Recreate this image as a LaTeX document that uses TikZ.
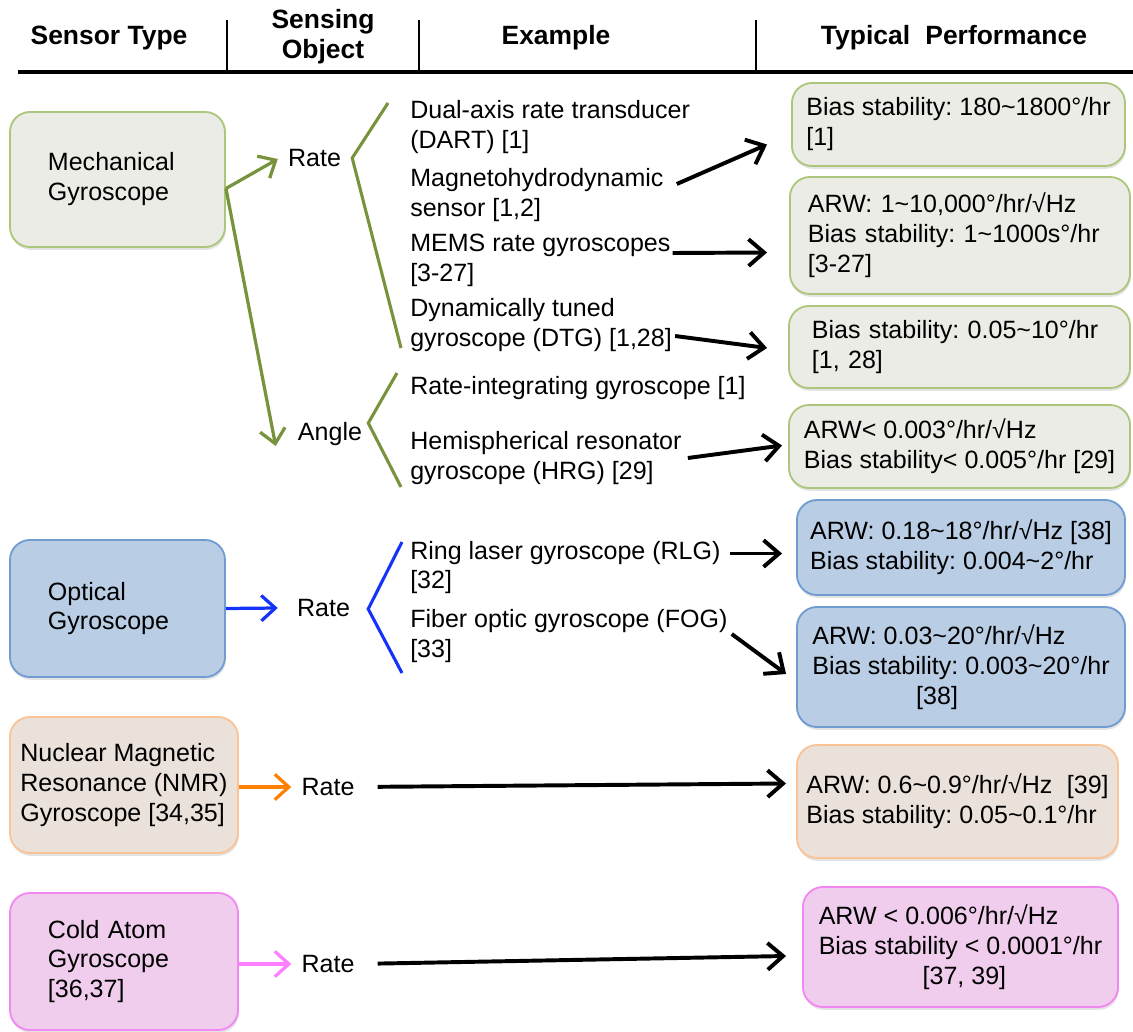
\documentclass[tikz,border=0pt]{standalone}
\usepackage{fontspec}
\setmainfont{Liberation Sans}
\usetikzlibrary{arrows.meta,calc,shadows}
\frenchspacing

\definecolor{mechfill}{RGB}{235,236,230}
\definecolor{mechline}{RGB}{172,198,124}
\definecolor{mechgreen}{RGB}{119,147,60}
\definecolor{optfill}{RGB}{185,205,228}
\definecolor{optline}{RGB}{112,156,210}
\definecolor{optblue}{RGB}{20,50,250}
\definecolor{nmrfill}{RGB}{234,225,219}
\definecolor{nmrline}{RGB}{250,195,150}
\definecolor{nmrorange}{RGB}{255,128,0}
\definecolor{coldfill}{RGB}{240,205,237}
\definecolor{coldline}{RGB}{242,135,242}
\definecolor{coldpink}{RGB}{255,128,255}

\newcommand{\tld}{\textasciitilde}

\tikzset{
  txt/.style={font=\fontsize{17.8}{21.3}\selectfont, inner sep=0pt},
  head/.style={font=\fontsize{18.8}{21.3}\selectfont\bfseries, align=center, inner sep=0pt},
  gbox/.style={txt, draw, line width=1.3pt, rounded corners=0.5cm, align=left,
    drop shadow={opacity=0.22, shadow xshift=0.6pt, shadow yshift=-2pt}},
  mechbox/.style={gbox, draw=mechline, fill=mechfill},
  optbox/.style={gbox, draw=optline, fill=optfill},
  nmrbox/.style={gbox, draw=nmrline, fill=nmrfill},
  coldbox/.style={gbox, draw=coldline, fill=coldfill},
  ex/.style={txt, align=left, anchor=west},
  obj/.style={txt},
  arr/.style={line width=2.8pt, -{Straight Barb[length=11pt,width=19pt]}},
  carr/.style={line width=2.3pt, -{Straight Barb[length=10pt,width=18pt]}},
  garr/.style={carr, mechgreen},
  barr/.style={carr, optblue},
  oarr/.style={carr, nmrorange},
  parr/.style={carr, coldpink},
  brace/.style={line width=2.2pt}
}

\begin{document}
\begin{tikzpicture}[x=0.025cm, y=-0.025cm]
  \useasboundingbox (0,0) rectangle (1133,1032);

  % header
  \node[head] (hType) at (109,38) {Sensor Type};
  \node[head] (hObj) at (323,37) {Sensing\\Object};
  \node[head] (hEx) at (556,38) {Example};
  \node[head] (hPerf) at (954,38) {Typical\hspace{0.3em} Performance};
  \draw[line width=2.8pt] (18,72) -- (1133,72);
  \foreach \sx in {227,419,756}
    \draw[line width=1.8pt] (\sx,20) -- (\sx,72);

  % sensor types
  \node[mechbox, minimum width=5.375cm, minimum height=3.375cm, text width=3.475cm] (mech) at (117.5,179.5) {Mechanical\\Gyroscope};
  \node[optbox, minimum width=5.375cm, minimum height=3.425cm, text width=3.475cm] (opt) at (117.5,608.5) {Optical\\Gyroscope};
  \node[nmrbox, minimum width=5.7cm, minimum height=3.4cm] (nmr) at (124,785) {Nuclear Magnetic\\Resonance (NMR)\\Gyroscope [34,35]};
  \node[coldbox, minimum width=5.7cm, minimum height=3.425cm, text width=3.8cm] (cold) at (124,961.5) {Cold Atom\\Gyroscope\\{}[36,37]};

  % sensing objects
  \node[obj] (mrate) at (314.5,158) {Rate};
  \node[obj] (mangle) at (330,434) {Angle};
  \node[obj] (orate) at (323.5,608) {Rate};
  \node[obj] (nrate) at (328,787) {Rate};
  \node[obj] (crate) at (328,964) {Rate};

  % examples
  \node[ex] (ex1) at (410,127) {Dual-axis rate transducer\\(DART) [1]};
  \node[ex] (ex2) at (410,195) {Magnetohydrodynamic\\sensor [1,2]};
  \node[ex] (ex3) at (410,260) {MEMS rate gyroscopes\\{}[3-27]};
  \node[ex] (ex4) at (410,325) {Dynamically tuned\\gyroscope (DTG) [1,28]};
  \node[ex] (ex5) at (410,388) {Rate-integrating gyroscope [1]};
  \node[ex] (ex6) at (410,458) {Hemispherical resonator\\gyroscope (HRG) [29]};
  \node[ex] (ex7) at (410,567.5) {Ring laser gyroscope (RLG)\\{}[32]};
  \node[ex] (ex8) at (410,636) {Fiber optic gyroscope (FOG)\\{}[33]};

  % typical performance
  \node[mechbox, minimum width=8.325cm, minimum height=2.075cm] (pf1) at (958.5,124.5) {Bias stability: 180\tld1800°/hr\\{}[1]};
  \node[mechbox, minimum width=8.5cm, minimum height=2.925cm, text width=7.6cm] (pf2) at (960,235.5) {ARW: 1\tld10,000°/hr/√Hz\\Bias stability: 1\tld1000s°/hr\\{}[3-27]};
  \node[mechbox, minimum width=8.525cm, minimum height=2.05cm, text width=7.375cm] (pf3) at (959.5,347) {Bias stability: 0.05\tld10°/hr\\{}[1, 28]};
  \node[mechbox, minimum width=8.525cm, minimum height=2.075cm] (pf4) at (959.5,446.5) {ARW< 0.003°/hr/√Hz\\Bias stability< 0.005°/hr [29]};
  \node[optbox, minimum width=8.2cm, minimum height=2.375cm] (pf5) at (961,547.5) {ARW: 0.18\tld18°/hr/√Hz [38]\\Bias stability: 0.004\tld2°/hr};
  \node[optbox, minimum width=8.2cm, minimum height=3cm] (pf6) at (961,667) {ARW: 0.03\tld20°/hr/√Hz\\Bias stability: 0.003\tld20°/hr\\\hspace*{4.15em}[38]};
  \node[nmrbox, minimum width=8.025cm, minimum height=2.825cm] (pf7) at (957.5,801.5) {ARW: 0.6\tld0.9°/hr/√Hz\hspace{0.3em} [39]\\Bias stability: 0.05\tld0.1°/hr};
  \node[coldbox, minimum width=7.875cm, minimum height=3cm] (pf8) at (960.5,947) {ARW < 0.006°/hr/√Hz\\Bias stability < 0.0001°/hr\\\hspace*{4.15em}[37, 39]};

  % type -> object
  \draw[garr] ($(mech.east)+(0,9)$) -- ($(mrate.west)+(-10,1)$);
  \draw[garr] ($(mech.east)+(0,9)$) -- ($(mangle.west)+(-22,12)$);
  \draw[barr] (opt.east) -- ($(orate.west)+(-19,0)$);
  \draw[oarr] (nmr.east |- nrate.west) -- ($(nrate.west)+(-10,0)$);
  \draw[parr] (cold.east |- crate.west) -- ($(crate.west)+(-10,0)$);

  % brackets
  \draw[brace, mechgreen] (388,103) -- ($(mrate.east)+(11,0)$) -- (401,348);
  \draw[brace, mechgreen] (397,373) -- ($(mangle.east)+(6,-11)$) -- (401,487);
  \draw[brace, optblue] (402,542) -- ($(orate.east)+(18,1)$) -- (402,673);

  % example -> performance
  \draw[arr] ($(ex2.east)+(13,-11)$) -- ($(pf1.west)+(-24,20)$);
  \draw[arr] ($(ex3.east)+(2,-7)$) -- ($(pf2.west)+(-22,17)$);
  \draw[arr] ($(ex4.east)+(3,11)$) -- ($(pf3.west)+(-21,1)$);
  \draw[arr] ($(ex6.east)+(6,0)$) -- ($(pf4.west)+(-6,-1)$);
  \draw[arr] ($(ex7.east)+(9,-14)$) -- ($(pf5.west)+(-14,6)$);
  \draw[arr] ($(ex8.east)+(4,-2)$) -- ($(pf6.west)+(-10,7)$);
  \draw[arr, shorten <=0.575cm] (nrate.east) -- ($(pf7.west)+(-10,-18)$);
  \draw[arr, shorten <=0.575cm] (crate.east) -- ($(pf8.west)+(-16,9)$);
\end{tikzpicture}
\end{document}
